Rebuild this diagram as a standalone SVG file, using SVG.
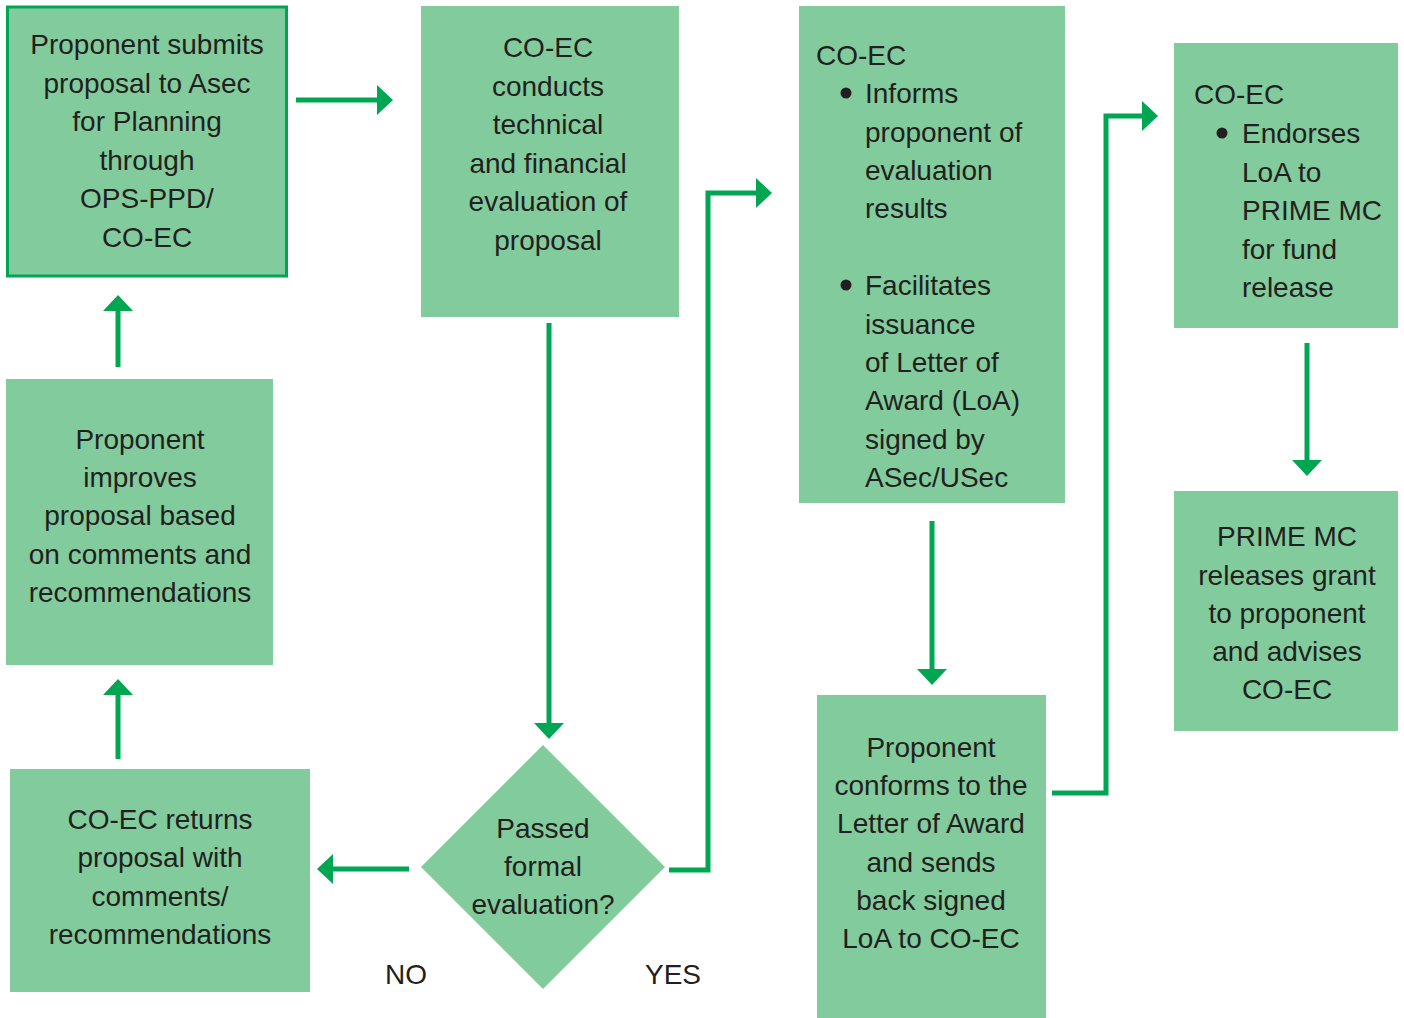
<svg xmlns="http://www.w3.org/2000/svg" width="1404" height="1018" viewBox="0 0 1404 1018">
<style>
.box{fill:#82cb9c}
.b1{fill:#82cb9c;stroke:#00a651;stroke-width:3}
.t{font-family:"Liberation Sans",Arial,sans-serif;font-size:28px;fill:#231f20}
.c{text-anchor:middle}
.conn{fill:none;stroke:#00a651;stroke-width:5;stroke-linejoin:miter}
</style>
<defs>
<marker id="ah" markerUnits="userSpaceOnUse" markerWidth="16" markerHeight="30" refX="0" refY="15" orient="auto" viewBox="0 0 16 30">
<path d="M0,0 L16,15 L0,30 Z" fill="#00a651"/>
</marker>
</defs>
<rect width="1404" height="1018" fill="#ffffff"/>
<g id="connectors">
<path class="conn" d="M296,100 H377" marker-end="url(#ah)"/>
<path class="conn" d="M549,323 V723" marker-end="url(#ah)"/>
<path class="conn" d="M669,870 H708 V193 H756" marker-end="url(#ah)"/>
<path class="conn" d="M409,869 H333" marker-end="url(#ah)"/>
<path class="conn" d="M118,759 V695" marker-end="url(#ah)"/>
<path class="conn" d="M118,367 V311" marker-end="url(#ah)"/>
<path class="conn" d="M932,521 V669" marker-end="url(#ah)"/>
<path class="conn" d="M1052,793 H1106 V116 H1142" marker-end="url(#ah)"/>
<path class="conn" d="M1307,343 V460" marker-end="url(#ah)"/>
</g>
<g id="submit">
<rect class="b1" x="7.5" y="7" width="279" height="269"/>
<text class="t c" x="147"><tspan x="147" y="54">Proponent submits</tspan><tspan x="147" y="92.5">proposal to Asec</tspan><tspan x="147" y="131">for Planning</tspan><tspan x="147" y="169.5">through</tspan><tspan x="147" y="208">OPS-PPD/</tspan><tspan x="147" y="246.5">CO-EC</tspan></text>
</g>
<g id="evaluate">
<rect class="box" x="421" y="6" width="258" height="311"/>
<text class="t c"><tspan x="548" y="57">CO-EC</tspan><tspan x="548" y="95.5">conducts</tspan><tspan x="548" y="134">technical</tspan><tspan x="548" y="172.5">and financial</tspan><tspan x="548" y="211">evaluation of</tspan><tspan x="548" y="249.5">proposal</tspan></text>
</g>
<g id="inform">
<rect class="box" x="799" y="6" width="266" height="497"/>
<text class="t" x="816" y="65">CO-EC</text>
<circle cx="846" cy="93" r="5.5" fill="#231f20"/>
<circle cx="846" cy="285" r="5.5" fill="#231f20"/>
<text class="t"><tspan x="865" y="103">Informs</tspan><tspan x="865" y="142">proponent of</tspan><tspan x="865" y="180">evaluation</tspan><tspan x="865" y="218">results</tspan><tspan x="865" y="295">Facilitates</tspan><tspan x="865" y="334">issuance</tspan><tspan x="865" y="372">of Letter of</tspan><tspan x="865" y="410">Award (LoA)</tspan><tspan x="865" y="449">signed by</tspan><tspan x="865" y="487">ASec/USec</tspan></text>
</g>
<g id="endorse">
<rect class="box" x="1174" y="43" width="224" height="285"/>
<text class="t" x="1194" y="104">CO-EC</text>
<circle cx="1222" cy="133" r="5.5" fill="#231f20"/>
<text class="t"><tspan x="1242" y="143">Endorses</tspan><tspan x="1242" y="182">LoA to</tspan><tspan x="1242" y="220">PRIME MC</tspan><tspan x="1242" y="259">for fund</tspan><tspan x="1242" y="297">release</tspan></text>
</g>
<g id="release">
<rect class="box" x="1174" y="491" width="224" height="240"/>
<text class="t c"><tspan x="1287" y="546">PRIME MC</tspan><tspan x="1287" y="585">releases grant</tspan><tspan x="1287" y="623">to proponent</tspan><tspan x="1287" y="661">and advises</tspan><tspan x="1287" y="699">CO-EC</tspan></text>
</g>
<g id="conform">
<rect class="box" x="817" y="695" width="229" height="323"/>
<text class="t c"><tspan x="931" y="757">Proponent</tspan><tspan x="931" y="795">conforms to the</tspan><tspan x="931" y="833">Letter of Award</tspan><tspan x="931" y="872">and sends</tspan><tspan x="931" y="910">back signed</tspan><tspan x="931" y="948">LoA to CO-EC</tspan></text>
</g>
<g id="returns">
<rect class="box" x="10" y="769" width="300" height="223"/>
<text class="t c"><tspan x="160" y="829">CO-EC returns</tspan><tspan x="160" y="867">proposal with</tspan><tspan x="160" y="906">comments/</tspan><tspan x="160" y="944">recommendations</tspan></text>
</g>
<g id="improve">
<rect class="box" x="6" y="379" width="267" height="286"/>
<text class="t c"><tspan x="140" y="449">Proponent</tspan><tspan x="140" y="487">improves</tspan><tspan x="140" y="525">proposal based</tspan><tspan x="140" y="564">on comments and</tspan><tspan x="140" y="602">recommendations</tspan></text>
</g>
<g id="decision">
<polygon class="box" points="543,745 665,867 543,989 421,867"/>
<text class="t c"><tspan x="543" y="838">Passed</tspan><tspan x="543" y="876">formal</tspan><tspan x="543" y="914">evaluation?</tspan></text>
</g>
<g id="labels">
<text class="t c" x="406" y="984">NO</text>
<text class="t c" x="673" y="984">YES</text>
</g>
</svg>
